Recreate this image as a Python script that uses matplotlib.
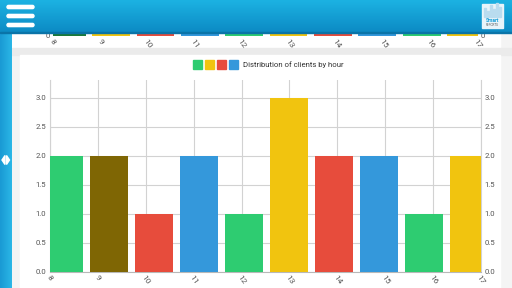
import numpy as np
import matplotlib.pyplot as plt
from matplotlib.patches import Rectangle, FancyBboxPatch, Polygon
from matplotlib.colors import LinearSegmentedColormap

plt.rcParams['font.family'] = ['Roboto', 'DejaVu Sans']

# data
hours = ['8', '9', '10', '11', '12', '13', '14', '15', '16', '17']
clients = [2, 2, 1, 2, 1, 3, 2, 2, 1, 2]
bar_colors = ['#2ecc71', '#7f6604', '#e74c3c', '#3498db', '#2ecc71',
              '#f1c40f', '#e74c3c', '#3498db', '#2ecc71', '#f1c40f']
upper_colors = ['#1a7a3a', '#f1c40f', '#e74c3c', '#3498db', '#2ecc71',
                '#f1c40f', '#e74c3c', '#3498db', '#2ecc71', '#f1c40f']
y_ticks = [0.0, 0.5, 1.0, 1.5, 2.0, 2.5, 3.0]
legend_colors = ['#2ecc71', '#f1c40f', '#e74c3c', '#3498db']
legend_text = 'Distribution of clients by hour'

W, H = 512, 288


def box(x0, y0, x1, y1):
    # pixel box, origin top-left -> figure fraction rect
    return [x0 / W, 1 - y1 / H, (x1 - x0) / W, (y1 - y0) / H]


fig = plt.figure(figsize=(5.12, 2.88), dpi=100)
fig.patch.set_facecolor('#f4f4f4')

# page background, cards
bg = fig.add_axes([0, 0, 1, 1], zorder=0)
bg.set_xlim(0, W)
bg.set_ylim(H, 0)
bg.axis('off')
bg.add_patch(Rectangle((12, 33), 488, 15, color='white'))
bg.add_patch(Rectangle((12, 48), 500, 7, color='#ebebeb'))
bg.add_patch(Rectangle((20, 55), 480, 233, color='white'))

# legend
for i, c in enumerate(legend_colors):
    bg.add_patch(Rectangle((193 + 12 * i, 60), 8.5, 9, color=c))
bg.text(243, 64.5, legend_text, fontsize=5.6, color='#333333', va='center', ha='left')

xmin, xmax = -0.31, 9.27
x = np.arange(len(hours))
grid_x = np.linspace(xmin, xmax, len(hours))

# main chart
ax = fig.add_axes(box(50, 80, 481, 272), zorder=2)
ax.set_facecolor('none')
ax.bar(x, clients, width=0.85, color=bar_colors, zorder=3)
ax.set_xlim(xmin, xmax)
ax.set_ylim(0, 3.31)
ax.set_yticks(y_ticks)
ax.set_yticklabels(['%.1f' % v for v in y_ticks])
ax.set_xticks(grid_x)
ax.set_xticklabels(hours, rotation=-55, ha='center', va='top')
ax.grid(True, color='#d2d2d2', lw=0.8, zorder=0)
ax.set_axisbelow(True)
ax.tick_params(length=0, labelsize=5.6, labelcolor='#555555',
               labelright=True, pad=2.5)
ax.tick_params(axis='x', pad=1.5, labelsize=6)
ax.spines['top'].set_visible(False)
for s in ('left', 'right'):
    ax.spines[s].set_color('#d2d2d2')
    ax.spines[s].set_linewidth(0.8)
ax.spines['bottom'].set_color('#b8b8b8')
ax.spines['bottom'].set_linewidth(0.8)

# previous chart, mostly scrolled under the header
ax2 = fig.add_axes(box(53, 26, 478, 36), zorder=2)
ax2.set_facecolor('none')
ax2.bar(x, clients, width=0.85, color=upper_colors, zorder=3)
ax2.set_xlim(xmin, xmax)
ax2.set_ylim(0, 0.2)
ax2.set_yticks([0])
ax2.set_yticklabels(['0'])
ax2.set_xticks(grid_x)
ax2.set_xticklabels(hours, rotation=-55, ha='center', va='top')
ax2.tick_params(length=0, labelsize=5.6, labelcolor='#555555',
                labelright=True, pad=2)
ax2.tick_params(axis='x', pad=1.5, labelsize=6)
for s in ax2.spines.values():
    s.set_visible(False)

# app chrome on top
top = fig.add_axes([0, 0, 1, 1], zorder=10)
top.axis('off')
grad = np.linspace(0, 1, 40).reshape(-1, 1)
top.imshow(grad, extent=[0, W, 33, 0], aspect='auto',
           cmap=LinearSegmentedColormap.from_list('hdr', ['#1cb2e2', '#0c8ac4']),
           zorder=1)
strip = np.linspace(0, 1, 12).reshape(1, -1)
top.imshow(strip, extent=[0, 11.5, H, 33], aspect='auto',
           cmap=LinearSegmentedColormap.from_list('strip', ['#1a9ad4', '#2ab6e6']),
           zorder=1)
top.set_xlim(0, W)
top.set_ylim(H, 0)
top.add_patch(Rectangle((0, 32), W, 1.2, color='#0a74a8', zorder=2))

# hamburger
for yy in (7, 16, 25):
    top.add_patch(FancyBboxPatch((7, yy - 1.6), 27, 3.2,
                                 boxstyle='round,pad=0,rounding_size=1.6',
                                 color='white', zorder=3))
# logo
top.add_patch(Rectangle((482, 4), 21, 24, color='#e8f4fa', zorder=3))
for i, hgt in enumerate([9, 6, 12, 8, 14, 10]):
    top.add_patch(Rectangle((484 + i * 3, 17 - hgt), 2, hgt, color='#b9dcef', zorder=4))
top.text(492.5, 20.5, 'Smart', fontsize=3.6, color='#1a9fd8', ha='center',
         va='center', weight='bold', zorder=5)
top.text(492.5, 25.5, 'REPORTS', fontsize=2.2, color='#555555', ha='center',
         va='center', zorder=5)

# drawer handle on the left strip
top.add_patch(Polygon([(2, 160), (5, 155.5), (5, 164.5)], color='white', zorder=5))
top.add_patch(Polygon([(6.5, 155.5), (9.5, 160), (6.5, 164.5)], color='white', zorder=5))

fig.savefig('out.png', dpi=100, facecolor=fig.get_facecolor())
